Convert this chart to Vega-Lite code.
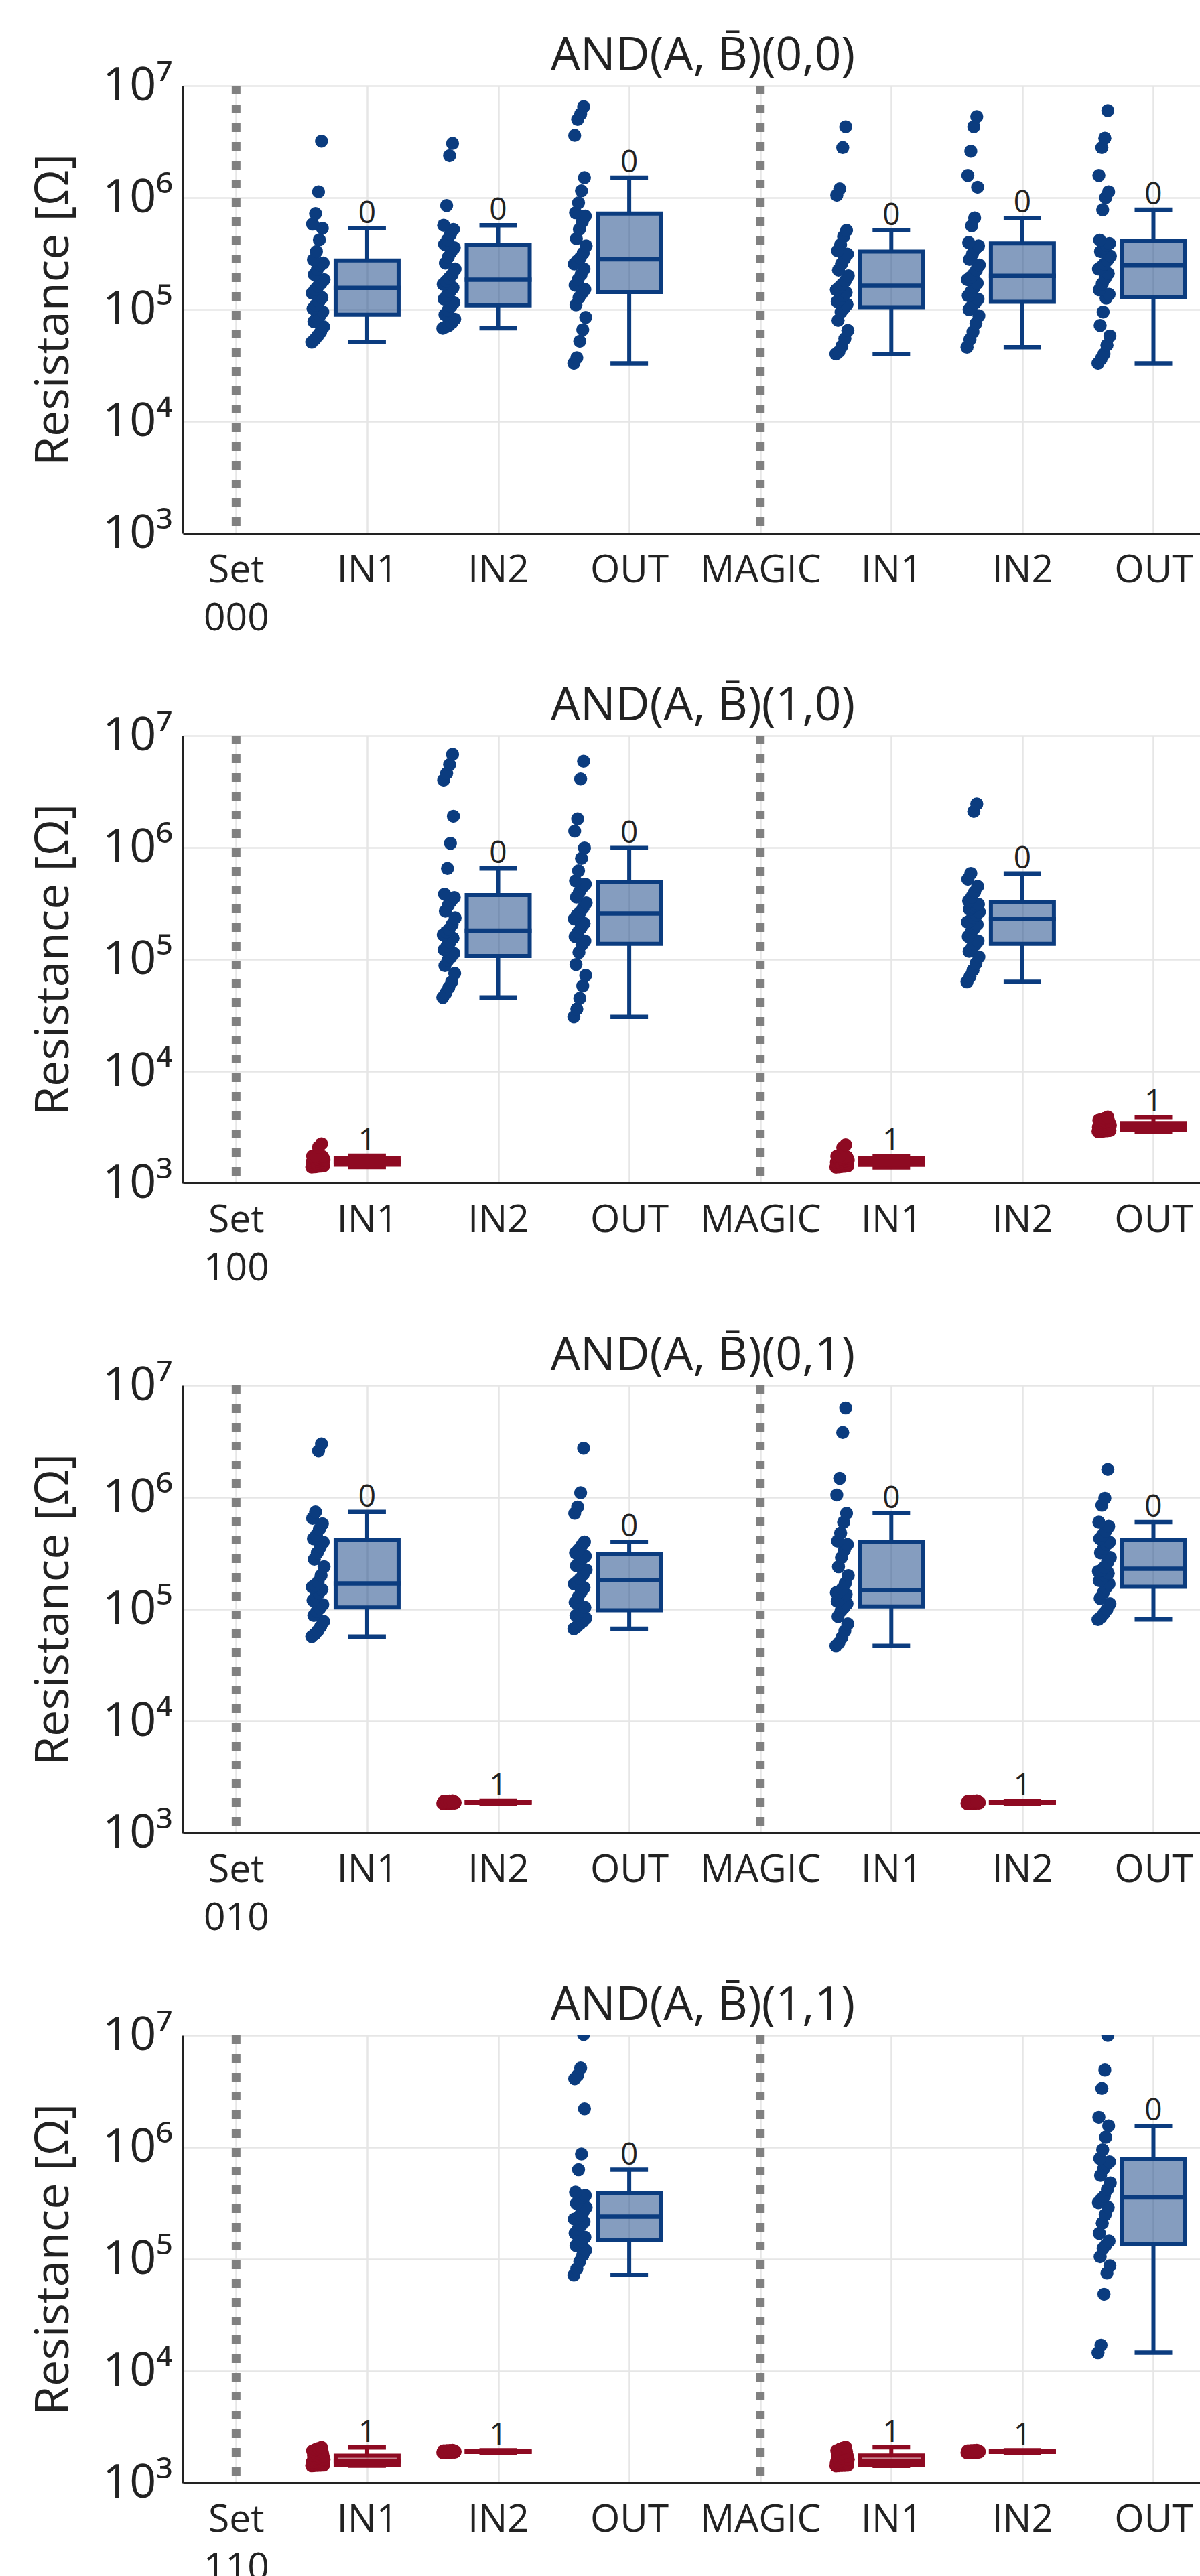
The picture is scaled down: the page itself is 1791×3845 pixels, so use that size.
{
"$schema": "https://vega.github.io/schema/vega-lite/v6.json",
"background": "white",
"padding": {"left": 45, "top": 49, "right": 0, "bottom": 0},
"spacing": 302,
"bounds": "flush",
"config": {
  "font": "Open Sans",
  "view": {"stroke": null},
  "axis": {"labelFont": "Open Sans", "titleFont": "Open Sans", "labelColor": "#222", "titleColor": "#222", "domainColor": "#222", "domainWidth": 3, "gridColor": "#e6e6e6", "gridWidth": 2.5, "ticks": false, "tickSize": 0, "labelOverlap": false, "labelFlush": false, "labelLimit": 0},
  "title": {"font": "Open Sans", "fontSize": 70, "fontWeight": "normal", "color": "#222"},
  "boxplot": {"size": 94}
},
"datasets": {
"refs": [{"g": "Set"}, {"g": "MAGIC"}],
"d": [
{"p":"a","g":"IN1","s":"0","n":1,"v":51000},{"p":"a","g":"IN1","s":"0","n":8,"v":54000},{"p":"a","g":"IN1","s":"0","n":15,"v":58000},{"p":"a","g":"IN1","s":"0","n":22,"v":63000},{"p":"a","g":"IN1","s":"0","n":29,"v":70000},{"p":"a","g":"IN1","s":"0","n":6,"v":78000},{"p":"a","g":"IN1","s":"0","n":13,"v":85000},{"p":"a","g":"IN1","s":"0","n":20,"v":88200},{"p":"a","g":"IN1","s":"0","n":27,"v":95400},{"p":"a","g":"IN1","s":"0","n":4,"v":102000},{"p":"a","g":"IN1","s":"0","n":11,"v":110000},{"p":"a","g":"IN1","s":"0","n":18,"v":118000},{"p":"a","g":"IN1","s":"0","n":25,"v":128000},{"p":"a","g":"IN1","s":"0","n":2,"v":140000},{"p":"a","g":"IN1","s":"0","n":9,"v":151000},{"p":"a","g":"IN1","s":"0","n":16,"v":161000},{"p":"a","g":"IN1","s":"0","n":23,"v":172000},{"p":"a","g":"IN1","s":"0","n":30,"v":185000},{"p":"a","g":"IN1","s":"0","n":7,"v":205000},{"p":"a","g":"IN1","s":"0","n":14,"v":228000},{"p":"a","g":"IN1","s":"0","n":21,"v":248000},{"p":"a","g":"IN1","s":"0","n":28,"v":260300},{"p":"a","g":"IN1","s":"0","n":5,"v":278700},{"p":"a","g":"IN1","s":"0","n":12,"v":330000},{"p":"a","g":"IN1","s":"0","n":19,"v":420000},{"p":"a","g":"IN1","s":"0","n":26,"v":533000},{"p":"a","g":"IN1","s":"0","n":3,"v":580000},{"p":"a","g":"IN1","s":"0","n":10,"v":720000},{"p":"a","g":"IN1","s":"0","n":17,"v":1130000},{"p":"a","g":"IN1","s":"0","n":24,"v":3200000},
{"p":"a","g":"IN2","s":"0","n":1,"v":68000},{"p":"a","g":"IN2","s":"0","n":8,"v":70000},{"p":"a","g":"IN2","s":"0","n":15,"v":72000},{"p":"a","g":"IN2","s":"0","n":22,"v":76000},{"p":"a","g":"IN2","s":"0","n":29,"v":82000},{"p":"a","g":"IN2","s":"0","n":6,"v":90000},{"p":"a","g":"IN2","s":"0","n":13,"v":98000},{"p":"a","g":"IN2","s":"0","n":20,"v":106800},{"p":"a","g":"IN2","s":"0","n":27,"v":115500},{"p":"a","g":"IN2","s":"0","n":4,"v":124000},{"p":"a","g":"IN2","s":"0","n":11,"v":134000},{"p":"a","g":"IN2","s":"0","n":18,"v":145000},{"p":"a","g":"IN2","s":"0","n":25,"v":157000},{"p":"a","g":"IN2","s":"0","n":2,"v":168000},{"p":"a","g":"IN2","s":"0","n":9,"v":179500},{"p":"a","g":"IN2","s":"0","n":16,"v":190500},{"p":"a","g":"IN2","s":"0","n":23,"v":205000},{"p":"a","g":"IN2","s":"0","n":30,"v":230000},{"p":"a","g":"IN2","s":"0","n":7,"v":260000},{"p":"a","g":"IN2","s":"0","n":14,"v":295000},{"p":"a","g":"IN2","s":"0","n":21,"v":330000},{"p":"a","g":"IN2","s":"0","n":28,"v":357200},{"p":"a","g":"IN2","s":"0","n":5,"v":382400},{"p":"a","g":"IN2","s":"0","n":12,"v":420000},{"p":"a","g":"IN2","s":"0","n":19,"v":470000},{"p":"a","g":"IN2","s":"0","n":26,"v":520000},{"p":"a","g":"IN2","s":"0","n":3,"v":567000},{"p":"a","g":"IN2","s":"0","n":10,"v":850000},{"p":"a","g":"IN2","s":"0","n":17,"v":2370000},{"p":"a","g":"IN2","s":"0","n":24,"v":3050000},
{"p":"a","g":"OUT","s":"0","n":1,"v":33000},{"p":"a","g":"OUT","s":"0","n":8,"v":37000},{"p":"a","g":"OUT","s":"0","n":15,"v":52000},{"p":"a","g":"OUT","s":"0","n":22,"v":66000},{"p":"a","g":"OUT","s":"0","n":29,"v":85000},{"p":"a","g":"OUT","s":"0","n":6,"v":110000},{"p":"a","g":"OUT","s":"0","n":13,"v":128000},{"p":"a","g":"OUT","s":"0","n":20,"v":140100},{"p":"a","g":"OUT","s":"0","n":27,"v":151600},{"p":"a","g":"OUT","s":"0","n":4,"v":165000},{"p":"a","g":"OUT","s":"0","n":11,"v":185000},{"p":"a","g":"OUT","s":"0","n":18,"v":205000},{"p":"a","g":"OUT","s":"0","n":25,"v":230000},{"p":"a","g":"OUT","s":"0","n":2,"v":255000},{"p":"a","g":"OUT","s":"0","n":9,"v":272600},{"p":"a","g":"OUT","s":"0","n":16,"v":289400},{"p":"a","g":"OUT","s":"0","n":23,"v":320000},{"p":"a","g":"OUT","s":"0","n":30,"v":370000},{"p":"a","g":"OUT","s":"0","n":7,"v":430000},{"p":"a","g":"OUT","s":"0","n":14,"v":520000},{"p":"a","g":"OUT","s":"0","n":21,"v":610000},{"p":"a","g":"OUT","s":"0","n":28,"v":684000},{"p":"a","g":"OUT","s":"0","n":5,"v":732200},{"p":"a","g":"OUT","s":"0","n":12,"v":900000},{"p":"a","g":"OUT","s":"0","n":19,"v":1150000},{"p":"a","g":"OUT","s":"0","n":26,"v":1510000},{"p":"a","g":"OUT","s":"0","n":3,"v":3600000},{"p":"a","g":"OUT","s":"0","n":10,"v":5000000},{"p":"a","g":"OUT","s":"0","n":17,"v":5600000},{"p":"a","g":"OUT","s":"0","n":24,"v":6500000},
{"p":"a","g":"IN1b","s":"0","n":1,"v":40000},{"p":"a","g":"IN1b","s":"0","n":8,"v":42000},{"p":"a","g":"IN1b","s":"0","n":15,"v":47000},{"p":"a","g":"IN1b","s":"0","n":22,"v":55000},{"p":"a","g":"IN1b","s":"0","n":29,"v":65000},{"p":"a","g":"IN1b","s":"0","n":6,"v":80000},{"p":"a","g":"IN1b","s":"0","n":13,"v":95000},{"p":"a","g":"IN1b","s":"0","n":20,"v":102900},{"p":"a","g":"IN1b","s":"0","n":27,"v":111300},{"p":"a","g":"IN1b","s":"0","n":4,"v":118000},{"p":"a","g":"IN1b","s":"0","n":11,"v":125000},{"p":"a","g":"IN1b","s":"0","n":18,"v":133000},{"p":"a","g":"IN1b","s":"0","n":25,"v":142000},{"p":"a","g":"IN1b","s":"0","n":2,"v":150000},{"p":"a","g":"IN1b","s":"0","n":9,"v":158100},{"p":"a","g":"IN1b","s":"0","n":16,"v":167900},{"p":"a","g":"IN1b","s":"0","n":23,"v":180000},{"p":"a","g":"IN1b","s":"0","n":30,"v":200000},{"p":"a","g":"IN1b","s":"0","n":7,"v":225000},{"p":"a","g":"IN1b","s":"0","n":14,"v":255000},{"p":"a","g":"IN1b","s":"0","n":21,"v":285000},{"p":"a","g":"IN1b","s":"0","n":28,"v":312550},{"p":"a","g":"IN1b","s":"0","n":5,"v":334600},{"p":"a","g":"IN1b","s":"0","n":12,"v":380000},{"p":"a","g":"IN1b","s":"0","n":19,"v":450000},{"p":"a","g":"IN1b","s":"0","n":26,"v":510000},{"p":"a","g":"IN1b","s":"0","n":3,"v":1050000},{"p":"a","g":"IN1b","s":"0","n":10,"v":1200000},{"p":"a","g":"IN1b","s":"0","n":17,"v":2800000},{"p":"a","g":"IN1b","s":"0","n":24,"v":4300000},
{"p":"a","g":"IN2b","s":"0","n":1,"v":46000},{"p":"a","g":"IN2b","s":"0","n":8,"v":54000},{"p":"a","g":"IN2b","s":"0","n":15,"v":63000},{"p":"a","g":"IN2b","s":"0","n":22,"v":75000},{"p":"a","g":"IN2b","s":"0","n":29,"v":88000},{"p":"a","g":"IN2b","s":"0","n":6,"v":100000},{"p":"a","g":"IN2b","s":"0","n":13,"v":108000},{"p":"a","g":"IN2b","s":"0","n":20,"v":114700},{"p":"a","g":"IN2b","s":"0","n":27,"v":124000},{"p":"a","g":"IN2b","s":"0","n":4,"v":133000},{"p":"a","g":"IN2b","s":"0","n":11,"v":145000},{"p":"a","g":"IN2b","s":"0","n":18,"v":158000},{"p":"a","g":"IN2b","s":"0","n":25,"v":172000},{"p":"a","g":"IN2b","s":"0","n":2,"v":185000},{"p":"a","g":"IN2b","s":"0","n":9,"v":194000},{"p":"a","g":"IN2b","s":"0","n":16,"v":206000},{"p":"a","g":"IN2b","s":"0","n":23,"v":225000},{"p":"a","g":"IN2b","s":"0","n":30,"v":250000},{"p":"a","g":"IN2b","s":"0","n":7,"v":280000},{"p":"a","g":"IN2b","s":"0","n":14,"v":315000},{"p":"a","g":"IN2b","s":"0","n":21,"v":350000},{"p":"a","g":"IN2b","s":"0","n":28,"v":370500},{"p":"a","g":"IN2b","s":"0","n":5,"v":396600},{"p":"a","g":"IN2b","s":"0","n":12,"v":560000},{"p":"a","g":"IN2b","s":"0","n":19,"v":660000},{"p":"a","g":"IN2b","s":"0","n":26,"v":1240000},{"p":"a","g":"IN2b","s":"0","n":3,"v":1580000},{"p":"a","g":"IN2b","s":"0","n":10,"v":2600000},{"p":"a","g":"IN2b","s":"0","n":17,"v":4300000},{"p":"a","g":"IN2b","s":"0","n":24,"v":5300000},
{"p":"a","g":"OUTb","s":"0","n":1,"v":33000},{"p":"a","g":"OUTb","s":"0","n":8,"v":36000},{"p":"a","g":"OUTb","s":"0","n":15,"v":40000},{"p":"a","g":"OUTb","s":"0","n":22,"v":48000},{"p":"a","g":"OUTb","s":"0","n":29,"v":58000},{"p":"a","g":"OUTb","s":"0","n":6,"v":72000},{"p":"a","g":"OUTb","s":"0","n":13,"v":95000},{"p":"a","g":"OUTb","s":"0","n":20,"v":126400},{"p":"a","g":"OUTb","s":"0","n":27,"v":136700},{"p":"a","g":"OUTb","s":"0","n":4,"v":150000},{"p":"a","g":"OUTb","s":"0","n":11,"v":170000},{"p":"a","g":"OUTb","s":"0","n":18,"v":190000},{"p":"a","g":"OUTb","s":"0","n":25,"v":210000},{"p":"a","g":"OUTb","s":"0","n":2,"v":230000},{"p":"a","g":"OUTb","s":"0","n":9,"v":240600},{"p":"a","g":"OUTb","s":"0","n":16,"v":255400},{"p":"a","g":"OUTb","s":"0","n":23,"v":275000},{"p":"a","g":"OUTb","s":"0","n":30,"v":300000},{"p":"a","g":"OUTb","s":"0","n":7,"v":330000},{"p":"a","g":"OUTb","s":"0","n":14,"v":355000},{"p":"a","g":"OUTb","s":"0","n":21,"v":375000},{"p":"a","g":"OUTb","s":"0","n":28,"v":389500},{"p":"a","g":"OUTb","s":"0","n":5,"v":417000},{"p":"a","g":"OUTb","s":"0","n":12,"v":780000},{"p":"a","g":"OUTb","s":"0","n":19,"v":1000000},{"p":"a","g":"OUTb","s":"0","n":26,"v":1130000},{"p":"a","g":"OUTb","s":"0","n":3,"v":1580000},{"p":"a","g":"OUTb","s":"0","n":10,"v":2800000},{"p":"a","g":"OUTb","s":"0","n":17,"v":3400000},{"p":"a","g":"OUTb","s":"0","n":24,"v":6000000},
{"p":"b","g":"IN1","s":"1","n":1,"v":1390},{"p":"b","g":"IN1","s":"1","n":8,"v":1400},{"p":"b","g":"IN1","s":"1","n":15,"v":1410},{"p":"b","g":"IN1","s":"1","n":22,"v":1420},{"p":"b","g":"IN1","s":"1","n":29,"v":1430},{"p":"b","g":"IN1","s":"1","n":6,"v":1440},{"p":"b","g":"IN1","s":"1","n":13,"v":1450},{"p":"b","g":"IN1","s":"1","n":20,"v":1457},{"p":"b","g":"IN1","s":"1","n":27,"v":1467},{"p":"b","g":"IN1","s":"1","n":4,"v":1480},{"p":"b","g":"IN1","s":"1","n":11,"v":1495},{"p":"b","g":"IN1","s":"1","n":18,"v":1510},{"p":"b","g":"IN1","s":"1","n":25,"v":1525},{"p":"b","g":"IN1","s":"1","n":2,"v":1540},{"p":"b","g":"IN1","s":"1","n":9,"v":1550},{"p":"b","g":"IN1","s":"1","n":16,"v":1570},{"p":"b","g":"IN1","s":"1","n":23,"v":1590},{"p":"b","g":"IN1","s":"1","n":30,"v":1610},{"p":"b","g":"IN1","s":"1","n":7,"v":1630},{"p":"b","g":"IN1","s":"1","n":14,"v":1650},{"p":"b","g":"IN1","s":"1","n":21,"v":1665},{"p":"b","g":"IN1","s":"1","n":28,"v":1680},{"p":"b","g":"IN1","s":"1","n":5,"v":1693},{"p":"b","g":"IN1","s":"1","n":12,"v":1700},{"p":"b","g":"IN1","s":"1","n":19,"v":1715},{"p":"b","g":"IN1","s":"1","n":26,"v":1730},{"p":"b","g":"IN1","s":"1","n":3,"v":1745},{"p":"b","g":"IN1","s":"1","n":10,"v":1760},{"p":"b","g":"IN1","s":"1","n":17,"v":2100},{"p":"b","g":"IN1","s":"1","n":24,"v":2250},
{"p":"b","g":"IN2","s":"0","n":1,"v":45700},{"p":"b","g":"IN2","s":"0","n":8,"v":50000},{"p":"b","g":"IN2","s":"0","n":15,"v":56000},{"p":"b","g":"IN2","s":"0","n":22,"v":63000},{"p":"b","g":"IN2","s":"0","n":29,"v":75000},{"p":"b","g":"IN2","s":"0","n":6,"v":88000},{"p":"b","g":"IN2","s":"0","n":13,"v":98000},{"p":"b","g":"IN2","s":"0","n":20,"v":104900},{"p":"b","g":"IN2","s":"0","n":27,"v":113400},{"p":"b","g":"IN2","s":"0","n":4,"v":122000},{"p":"b","g":"IN2","s":"0","n":11,"v":132000},{"p":"b","g":"IN2","s":"0","n":18,"v":143000},{"p":"b","g":"IN2","s":"0","n":25,"v":155000},{"p":"b","g":"IN2","s":"0","n":2,"v":166000},{"p":"b","g":"IN2","s":"0","n":9,"v":175600},{"p":"b","g":"IN2","s":"0","n":16,"v":186400},{"p":"b","g":"IN2","s":"0","n":23,"v":205000},{"p":"b","g":"IN2","s":"0","n":30,"v":235000},{"p":"b","g":"IN2","s":"0","n":7,"v":270000},{"p":"b","g":"IN2","s":"0","n":14,"v":305000},{"p":"b","g":"IN2","s":"0","n":21,"v":335000},{"p":"b","g":"IN2","s":"0","n":28,"v":357200},{"p":"b","g":"IN2","s":"0","n":5,"v":382400},{"p":"b","g":"IN2","s":"0","n":12,"v":650000},{"p":"b","g":"IN2","s":"0","n":19,"v":1090000},{"p":"b","g":"IN2","s":"0","n":26,"v":1900000},{"p":"b","g":"IN2","s":"0","n":3,"v":4000000},{"p":"b","g":"IN2","s":"0","n":10,"v":4600000},{"p":"b","g":"IN2","s":"0","n":17,"v":5500000},{"p":"b","g":"IN2","s":"0","n":24,"v":6800000},
{"p":"b","g":"OUT","s":"0","n":1,"v":30700},{"p":"b","g":"OUT","s":"0","n":8,"v":36000},{"p":"b","g":"OUT","s":"0","n":15,"v":45000},{"p":"b","g":"OUT","s":"0","n":22,"v":58000},{"p":"b","g":"OUT","s":"0","n":29,"v":72000},{"p":"b","g":"OUT","s":"0","n":6,"v":90000},{"p":"b","g":"OUT","s":"0","n":13,"v":115000},{"p":"b","g":"OUT","s":"0","n":20,"v":135200},{"p":"b","g":"OUT","s":"0","n":27,"v":146300},{"p":"b","g":"OUT","s":"0","n":4,"v":160000},{"p":"b","g":"OUT","s":"0","n":11,"v":175000},{"p":"b","g":"OUT","s":"0","n":18,"v":192000},{"p":"b","g":"OUT","s":"0","n":25,"v":210000},{"p":"b","g":"OUT","s":"0","n":2,"v":230000},{"p":"b","g":"OUT","s":"0","n":9,"v":249300},{"p":"b","g":"OUT","s":"0","n":16,"v":264700},{"p":"b","g":"OUT","s":"0","n":23,"v":290000},{"p":"b","g":"OUT","s":"0","n":30,"v":320000},{"p":"b","g":"OUT","s":"0","n":7,"v":360000},{"p":"b","g":"OUT","s":"0","n":14,"v":400000},{"p":"b","g":"OUT","s":"0","n":21,"v":440000},{"p":"b","g":"OUT","s":"0","n":28,"v":470250},{"p":"b","g":"OUT","s":"0","n":5,"v":503400},{"p":"b","g":"OUT","s":"0","n":12,"v":620000},{"p":"b","g":"OUT","s":"0","n":19,"v":800000},{"p":"b","g":"OUT","s":"0","n":26,"v":990000},{"p":"b","g":"OUT","s":"0","n":3,"v":1400000},{"p":"b","g":"OUT","s":"0","n":10,"v":1800000},{"p":"b","g":"OUT","s":"0","n":17,"v":4100000},{"p":"b","g":"OUT","s":"0","n":24,"v":5900000},
{"p":"b","g":"IN1b","s":"1","n":1,"v":1385},{"p":"b","g":"IN1b","s":"1","n":8,"v":1398},{"p":"b","g":"IN1b","s":"1","n":15,"v":1408},{"p":"b","g":"IN1b","s":"1","n":22,"v":1418},{"p":"b","g":"IN1b","s":"1","n":29,"v":1428},{"p":"b","g":"IN1b","s":"1","n":6,"v":1438},{"p":"b","g":"IN1b","s":"1","n":13,"v":1448},{"p":"b","g":"IN1b","s":"1","n":20,"v":1455},{"p":"b","g":"IN1b","s":"1","n":27,"v":1466},{"p":"b","g":"IN1b","s":"1","n":4,"v":1478},{"p":"b","g":"IN1b","s":"1","n":11,"v":1492},{"p":"b","g":"IN1b","s":"1","n":18,"v":1506},{"p":"b","g":"IN1b","s":"1","n":25,"v":1520},{"p":"b","g":"IN1b","s":"1","n":2,"v":1536},{"p":"b","g":"IN1b","s":"1","n":9,"v":1548},{"p":"b","g":"IN1b","s":"1","n":16,"v":1566},{"p":"b","g":"IN1b","s":"1","n":23,"v":1585},{"p":"b","g":"IN1b","s":"1","n":30,"v":1605},{"p":"b","g":"IN1b","s":"1","n":7,"v":1625},{"p":"b","g":"IN1b","s":"1","n":14,"v":1645},{"p":"b","g":"IN1b","s":"1","n":21,"v":1662},{"p":"b","g":"IN1b","s":"1","n":28,"v":1676},{"p":"b","g":"IN1b","s":"1","n":5,"v":1690},{"p":"b","g":"IN1b","s":"1","n":12,"v":1698},{"p":"b","g":"IN1b","s":"1","n":19,"v":1712},{"p":"b","g":"IN1b","s":"1","n":26,"v":1726},{"p":"b","g":"IN1b","s":"1","n":3,"v":1740},{"p":"b","g":"IN1b","s":"1","n":10,"v":1755},{"p":"b","g":"IN1b","s":"1","n":17,"v":2080},{"p":"b","g":"IN1b","s":"1","n":24,"v":2200},
{"p":"b","g":"IN2b","s":"0","n":1,"v":63000},{"p":"b","g":"IN2b","s":"0","n":8,"v":70000},{"p":"b","g":"IN2b","s":"0","n":15,"v":80000},{"p":"b","g":"IN2b","s":"0","n":22,"v":92000},{"p":"b","g":"IN2b","s":"0","n":29,"v":105000},{"p":"b","g":"IN2b","s":"0","n":6,"v":118000},{"p":"b","g":"IN2b","s":"0","n":13,"v":128000},{"p":"b","g":"IN2b","s":"0","n":20,"v":135200},{"p":"b","g":"IN2b","s":"0","n":27,"v":146300},{"p":"b","g":"IN2b","s":"0","n":4,"v":160000},{"p":"b","g":"IN2b","s":"0","n":11,"v":175000},{"p":"b","g":"IN2b","s":"0","n":18,"v":190000},{"p":"b","g":"IN2b","s":"0","n":25,"v":205000},{"p":"b","g":"IN2b","s":"0","n":2,"v":215000},{"p":"b","g":"IN2b","s":"0","n":9,"v":223100},{"p":"b","g":"IN2b","s":"0","n":16,"v":236900},{"p":"b","g":"IN2b","s":"0","n":23,"v":250000},{"p":"b","g":"IN2b","s":"0","n":30,"v":265000},{"p":"b","g":"IN2b","s":"0","n":7,"v":280000},{"p":"b","g":"IN2b","s":"0","n":14,"v":295000},{"p":"b","g":"IN2b","s":"0","n":21,"v":305000},{"p":"b","g":"IN2b","s":"0","n":28,"v":310650},{"p":"b","g":"IN2b","s":"0","n":5,"v":332600},{"p":"b","g":"IN2b","s":"0","n":12,"v":360000},{"p":"b","g":"IN2b","s":"0","n":19,"v":400000},{"p":"b","g":"IN2b","s":"0","n":26,"v":450000},{"p":"b","g":"IN2b","s":"0","n":3,"v":520000},{"p":"b","g":"IN2b","s":"0","n":10,"v":586000},{"p":"b","g":"IN2b","s":"0","n":17,"v":2100000},{"p":"b","g":"IN2b","s":"0","n":24,"v":2450000},
{"p":"b","g":"OUTb","s":"1","n":1,"v":2900},{"p":"b","g":"OUTb","s":"1","n":8,"v":2910},{"p":"b","g":"OUTb","s":"1","n":15,"v":2925},{"p":"b","g":"OUTb","s":"1","n":22,"v":2940},{"p":"b","g":"OUTb","s":"1","n":29,"v":2955},{"p":"b","g":"OUTb","s":"1","n":6,"v":2970},{"p":"b","g":"OUTb","s":"1","n":13,"v":2985},{"p":"b","g":"OUTb","s":"1","n":20,"v":2995},{"p":"b","g":"OUTb","s":"1","n":27,"v":3010},{"p":"b","g":"OUTb","s":"1","n":4,"v":3040},{"p":"b","g":"OUTb","s":"1","n":11,"v":3080},{"p":"b","g":"OUTb","s":"1","n":18,"v":3110},{"p":"b","g":"OUTb","s":"1","n":25,"v":3140},{"p":"b","g":"OUTb","s":"1","n":2,"v":3165},{"p":"b","g":"OUTb","s":"1","n":9,"v":3185},{"p":"b","g":"OUTb","s":"1","n":16,"v":3215},{"p":"b","g":"OUTb","s":"1","n":23,"v":3250},{"p":"b","g":"OUTb","s":"1","n":30,"v":3290},{"p":"b","g":"OUTb","s":"1","n":7,"v":3330},{"p":"b","g":"OUTb","s":"1","n":14,"v":3370},{"p":"b","g":"OUTb","s":"1","n":21,"v":3400},{"p":"b","g":"OUTb","s":"1","n":28,"v":3430},{"p":"b","g":"OUTb","s":"1","n":5,"v":3460},{"p":"b","g":"OUTb","s":"1","n":12,"v":3500},{"p":"b","g":"OUTb","s":"1","n":19,"v":3550},{"p":"b","g":"OUTb","s":"1","n":26,"v":3600},{"p":"b","g":"OUTb","s":"1","n":3,"v":3660},{"p":"b","g":"OUTb","s":"1","n":10,"v":3720},{"p":"b","g":"OUTb","s":"1","n":17,"v":3800},{"p":"b","g":"OUTb","s":"1","n":24,"v":3900},
{"p":"c","g":"IN1","s":"0","n":1,"v":57000},{"p":"c","g":"IN1","s":"0","n":8,"v":60000},{"p":"c","g":"IN1","s":"0","n":15,"v":64000},{"p":"c","g":"IN1","s":"0","n":22,"v":70000},{"p":"c","g":"IN1","s":"0","n":29,"v":78000},{"p":"c","g":"IN1","s":"0","n":6,"v":88000},{"p":"c","g":"IN1","s":"0","n":13,"v":96000},{"p":"c","g":"IN1","s":"0","n":20,"v":101900},{"p":"c","g":"IN1","s":"0","n":27,"v":110200},{"p":"c","g":"IN1","s":"0","n":4,"v":120000},{"p":"c","g":"IN1","s":"0","n":11,"v":130000},{"p":"c","g":"IN1","s":"0","n":18,"v":140000},{"p":"c","g":"IN1","s":"0","n":25,"v":150000},{"p":"c","g":"IN1","s":"0","n":2,"v":158000},{"p":"c","g":"IN1","s":"0","n":9,"v":164900},{"p":"c","g":"IN1","s":"0","n":16,"v":175100},{"p":"c","g":"IN1","s":"0","n":23,"v":200000},{"p":"c","g":"IN1","s":"0","n":30,"v":240000},{"p":"c","g":"IN1","s":"0","n":7,"v":280000},{"p":"c","g":"IN1","s":"0","n":14,"v":320000},{"p":"c","g":"IN1","s":"0","n":21,"v":360000},{"p":"c","g":"IN1","s":"0","n":28,"v":399000},{"p":"c","g":"IN1","s":"0","n":5,"v":427100},{"p":"c","g":"IN1","s":"0","n":12,"v":460000},{"p":"c","g":"IN1","s":"0","n":19,"v":520000},{"p":"c","g":"IN1","s":"0","n":26,"v":580000},{"p":"c","g":"IN1","s":"0","n":3,"v":650000},{"p":"c","g":"IN1","s":"0","n":10,"v":740000},{"p":"c","g":"IN1","s":"0","n":17,"v":2600000},{"p":"c","g":"IN1","s":"0","n":24,"v":3000000},
{"p":"c","g":"IN2","s":"1","n":1,"v":1835},{"p":"c","g":"IN2","s":"1","n":8,"v":1840},{"p":"c","g":"IN2","s":"1","n":15,"v":1845},{"p":"c","g":"IN2","s":"1","n":22,"v":1848},{"p":"c","g":"IN2","s":"1","n":29,"v":1851},{"p":"c","g":"IN2","s":"1","n":6,"v":1854},{"p":"c","g":"IN2","s":"1","n":13,"v":1857},{"p":"c","g":"IN2","s":"1","n":20,"v":1859},{"p":"c","g":"IN2","s":"1","n":27,"v":1862},{"p":"c","g":"IN2","s":"1","n":4,"v":1865},{"p":"c","g":"IN2","s":"1","n":11,"v":1867},{"p":"c","g":"IN2","s":"1","n":18,"v":1869},{"p":"c","g":"IN2","s":"1","n":25,"v":1871},{"p":"c","g":"IN2","s":"1","n":2,"v":1873},{"p":"c","g":"IN2","s":"1","n":9,"v":1875},{"p":"c","g":"IN2","s":"1","n":16,"v":1877},{"p":"c","g":"IN2","s":"1","n":23,"v":1879},{"p":"c","g":"IN2","s":"1","n":30,"v":1881},{"p":"c","g":"IN2","s":"1","n":7,"v":1883},{"p":"c","g":"IN2","s":"1","n":14,"v":1885},{"p":"c","g":"IN2","s":"1","n":21,"v":1887},{"p":"c","g":"IN2","s":"1","n":28,"v":1889},{"p":"c","g":"IN2","s":"1","n":5,"v":1892},{"p":"c","g":"IN2","s":"1","n":12,"v":1896},{"p":"c","g":"IN2","s":"1","n":19,"v":1900},{"p":"c","g":"IN2","s":"1","n":26,"v":1905},{"p":"c","g":"IN2","s":"1","n":3,"v":1910},{"p":"c","g":"IN2","s":"1","n":10,"v":1918},{"p":"c","g":"IN2","s":"1","n":17,"v":1926},{"p":"c","g":"IN2","s":"1","n":24,"v":1935},
{"p":"c","g":"OUT","s":"0","n":1,"v":67000},{"p":"c","g":"OUT","s":"0","n":8,"v":70000},{"p":"c","g":"OUT","s":"0","n":15,"v":74000},{"p":"c","g":"OUT","s":"0","n":22,"v":78000},{"p":"c","g":"OUT","s":"0","n":29,"v":83000},{"p":"c","g":"OUT","s":"0","n":6,"v":88000},{"p":"c","g":"OUT","s":"0","n":13,"v":93000},{"p":"c","g":"OUT","s":"0","n":20,"v":96000},{"p":"c","g":"OUT","s":"0","n":27,"v":103900},{"p":"c","g":"OUT","s":"0","n":4,"v":115000},{"p":"c","g":"OUT","s":"0","n":11,"v":128000},{"p":"c","g":"OUT","s":"0","n":18,"v":142000},{"p":"c","g":"OUT","s":"0","n":25,"v":156000},{"p":"c","g":"OUT","s":"0","n":2,"v":168000},{"p":"c","g":"OUT","s":"0","n":9,"v":176500},{"p":"c","g":"OUT","s":"0","n":16,"v":187500},{"p":"c","g":"OUT","s":"0","n":23,"v":205000},{"p":"c","g":"OUT","s":"0","n":30,"v":225000},{"p":"c","g":"OUT","s":"0","n":7,"v":245000},{"p":"c","g":"OUT","s":"0","n":14,"v":265000},{"p":"c","g":"OUT","s":"0","n":21,"v":285000},{"p":"c","g":"OUT","s":"0","n":28,"v":298300},{"p":"c","g":"OUT","s":"0","n":5,"v":319300},{"p":"c","g":"OUT","s":"0","n":12,"v":340000},{"p":"c","g":"OUT","s":"0","n":19,"v":370000},{"p":"c","g":"OUT","s":"0","n":26,"v":400000},{"p":"c","g":"OUT","s":"0","n":3,"v":720000},{"p":"c","g":"OUT","s":"0","n":10,"v":820000},{"p":"c","g":"OUT","s":"0","n":17,"v":1100000},{"p":"c","g":"OUT","s":"0","n":24,"v":2750000},
{"p":"c","g":"IN1b","s":"0","n":1,"v":47000},{"p":"c","g":"IN1b","s":"0","n":8,"v":50000},{"p":"c","g":"IN1b","s":"0","n":15,"v":56000},{"p":"c","g":"IN1b","s":"0","n":22,"v":64000},{"p":"c","g":"IN1b","s":"0","n":29,"v":74000},{"p":"c","g":"IN1b","s":"0","n":6,"v":86000},{"p":"c","g":"IN1b","s":"0","n":13,"v":97000},{"p":"c","g":"IN1b","s":"0","n":20,"v":103900},{"p":"c","g":"IN1b","s":"0","n":27,"v":112400},{"p":"c","g":"IN1b","s":"0","n":4,"v":118000},{"p":"c","g":"IN1b","s":"0","n":11,"v":124000},{"p":"c","g":"IN1b","s":"0","n":18,"v":130000},{"p":"c","g":"IN1b","s":"0","n":25,"v":136000},{"p":"c","g":"IN1b","s":"0","n":2,"v":141000},{"p":"c","g":"IN1b","s":"0","n":9,"v":143600},{"p":"c","g":"IN1b","s":"0","n":16,"v":152400},{"p":"c","g":"IN1b","s":"0","n":23,"v":170000},{"p":"c","g":"IN1b","s":"0","n":30,"v":200000},{"p":"c","g":"IN1b","s":"0","n":7,"v":240000},{"p":"c","g":"IN1b","s":"0","n":14,"v":290000},{"p":"c","g":"IN1b","s":"0","n":21,"v":340000},{"p":"c","g":"IN1b","s":"0","n":28,"v":380000},{"p":"c","g":"IN1b","s":"0","n":5,"v":406800},{"p":"c","g":"IN1b","s":"0","n":12,"v":480000},{"p":"c","g":"IN1b","s":"0","n":19,"v":600000},{"p":"c","g":"IN1b","s":"0","n":26,"v":720000},{"p":"c","g":"IN1b","s":"0","n":3,"v":1050000},{"p":"c","g":"IN1b","s":"0","n":10,"v":1480000},{"p":"c","g":"IN1b","s":"0","n":17,"v":3800000},{"p":"c","g":"IN1b","s":"0","n":24,"v":6300000},
{"p":"c","g":"IN2b","s":"1","n":1,"v":1838},{"p":"c","g":"IN2b","s":"1","n":8,"v":1843},{"p":"c","g":"IN2b","s":"1","n":15,"v":1847},{"p":"c","g":"IN2b","s":"1","n":22,"v":1850},{"p":"c","g":"IN2b","s":"1","n":29,"v":1853},{"p":"c","g":"IN2b","s":"1","n":6,"v":1856},{"p":"c","g":"IN2b","s":"1","n":13,"v":1858},{"p":"c","g":"IN2b","s":"1","n":20,"v":1860},{"p":"c","g":"IN2b","s":"1","n":27,"v":1863},{"p":"c","g":"IN2b","s":"1","n":4,"v":1866},{"p":"c","g":"IN2b","s":"1","n":11,"v":1868},{"p":"c","g":"IN2b","s":"1","n":18,"v":1870},{"p":"c","g":"IN2b","s":"1","n":25,"v":1872},{"p":"c","g":"IN2b","s":"1","n":2,"v":1874},{"p":"c","g":"IN2b","s":"1","n":9,"v":1876},{"p":"c","g":"IN2b","s":"1","n":16,"v":1878},{"p":"c","g":"IN2b","s":"1","n":23,"v":1880},{"p":"c","g":"IN2b","s":"1","n":30,"v":1882},{"p":"c","g":"IN2b","s":"1","n":7,"v":1884},{"p":"c","g":"IN2b","s":"1","n":14,"v":1886},{"p":"c","g":"IN2b","s":"1","n":21,"v":1888},{"p":"c","g":"IN2b","s":"1","n":28,"v":1890},{"p":"c","g":"IN2b","s":"1","n":5,"v":1893},{"p":"c","g":"IN2b","s":"1","n":12,"v":1897},{"p":"c","g":"IN2b","s":"1","n":19,"v":1901},{"p":"c","g":"IN2b","s":"1","n":26,"v":1906},{"p":"c","g":"IN2b","s":"1","n":3,"v":1912},{"p":"c","g":"IN2b","s":"1","n":10,"v":1919},{"p":"c","g":"IN2b","s":"1","n":17,"v":1927},{"p":"c","g":"IN2b","s":"1","n":24,"v":1933},
{"p":"c","g":"OUTb","s":"0","n":1,"v":81000},{"p":"c","g":"OUTb","s":"0","n":8,"v":85000},{"p":"c","g":"OUTb","s":"0","n":15,"v":92000},{"p":"c","g":"OUTb","s":"0","n":22,"v":100000},{"p":"c","g":"OUTb","s":"0","n":29,"v":112000},{"p":"c","g":"OUTb","s":"0","n":6,"v":125000},{"p":"c","g":"OUTb","s":"0","n":13,"v":140000},{"p":"c","g":"OUTb","s":"0","n":20,"v":155800},{"p":"c","g":"OUTb","s":"0","n":27,"v":168500},{"p":"c","g":"OUTb","s":"0","n":4,"v":180000},{"p":"c","g":"OUTb","s":"0","n":11,"v":190000},{"p":"c","g":"OUTb","s":"0","n":18,"v":200000},{"p":"c","g":"OUTb","s":"0","n":25,"v":210000},{"p":"c","g":"OUTb","s":"0","n":2,"v":218000},{"p":"c","g":"OUTb","s":"0","n":9,"v":223100},{"p":"c","g":"OUTb","s":"0","n":16,"v":236900},{"p":"c","g":"OUTb","s":"0","n":23,"v":260000},{"p":"c","g":"OUTb","s":"0","n":30,"v":290000},{"p":"c","g":"OUTb","s":"0","n":7,"v":320000},{"p":"c","g":"OUTb","s":"0","n":14,"v":350000},{"p":"c","g":"OUTb","s":"0","n":21,"v":380000},{"p":"c","g":"OUTb","s":"0","n":28,"v":399000},{"p":"c","g":"OUTb","s":"0","n":5,"v":427100},{"p":"c","g":"OUTb","s":"0","n":12,"v":460000},{"p":"c","g":"OUTb","s":"0","n":19,"v":500000},{"p":"c","g":"OUTb","s":"0","n":26,"v":550000},{"p":"c","g":"OUTb","s":"0","n":3,"v":600000},{"p":"c","g":"OUTb","s":"0","n":10,"v":850000},{"p":"c","g":"OUTb","s":"0","n":17,"v":980000},{"p":"c","g":"OUTb","s":"0","n":24,"v":1780000},
{"p":"d","g":"IN1","s":"1","n":1,"v":1420},{"p":"d","g":"IN1","s":"1","n":8,"v":1425},{"p":"d","g":"IN1","s":"1","n":15,"v":1430},{"p":"d","g":"IN1","s":"1","n":22,"v":1435},{"p":"d","g":"IN1","s":"1","n":29,"v":1440},{"p":"d","g":"IN1","s":"1","n":6,"v":1443},{"p":"d","g":"IN1","s":"1","n":13,"v":1446},{"p":"d","g":"IN1","s":"1","n":20,"v":1448},{"p":"d","g":"IN1","s":"1","n":27,"v":1456},{"p":"d","g":"IN1","s":"1","n":4,"v":1470},{"p":"d","g":"IN1","s":"1","n":11,"v":1485},{"p":"d","g":"IN1","s":"1","n":18,"v":1500},{"p":"d","g":"IN1","s":"1","n":25,"v":1515},{"p":"d","g":"IN1","s":"1","n":2,"v":1530},{"p":"d","g":"IN1","s":"1","n":9,"v":1540},{"p":"d","g":"IN1","s":"1","n":16,"v":1560},{"p":"d","g":"IN1","s":"1","n":23,"v":1580},{"p":"d","g":"IN1","s":"1","n":30,"v":1610},{"p":"d","g":"IN1","s":"1","n":7,"v":1640},{"p":"d","g":"IN1","s":"1","n":14,"v":1670},{"p":"d","g":"IN1","s":"1","n":21,"v":1700},{"p":"d","g":"IN1","s":"1","n":28,"v":1730},{"p":"d","g":"IN1","s":"1","n":5,"v":1757},{"p":"d","g":"IN1","s":"1","n":12,"v":1790},{"p":"d","g":"IN1","s":"1","n":19,"v":1830},{"p":"d","g":"IN1","s":"1","n":26,"v":1880},{"p":"d","g":"IN1","s":"1","n":3,"v":1930},{"p":"d","g":"IN1","s":"1","n":10,"v":1980},{"p":"d","g":"IN1","s":"1","n":17,"v":2030},{"p":"d","g":"IN1","s":"1","n":24,"v":2070},
{"p":"d","g":"IN2","s":"1","n":1,"v":1860},{"p":"d","g":"IN2","s":"1","n":8,"v":1865},{"p":"d","g":"IN2","s":"1","n":15,"v":1870},{"p":"d","g":"IN2","s":"1","n":22,"v":1874},{"p":"d","g":"IN2","s":"1","n":29,"v":1877},{"p":"d","g":"IN2","s":"1","n":6,"v":1880},{"p":"d","g":"IN2","s":"1","n":13,"v":1883},{"p":"d","g":"IN2","s":"1","n":20,"v":1885},{"p":"d","g":"IN2","s":"1","n":27,"v":1888},{"p":"d","g":"IN2","s":"1","n":4,"v":1891},{"p":"d","g":"IN2","s":"1","n":11,"v":1893},{"p":"d","g":"IN2","s":"1","n":18,"v":1895},{"p":"d","g":"IN2","s":"1","n":25,"v":1897},{"p":"d","g":"IN2","s":"1","n":2,"v":1899},{"p":"d","g":"IN2","s":"1","n":9,"v":1900},{"p":"d","g":"IN2","s":"1","n":16,"v":1902},{"p":"d","g":"IN2","s":"1","n":23,"v":1904},{"p":"d","g":"IN2","s":"1","n":30,"v":1906},{"p":"d","g":"IN2","s":"1","n":7,"v":1908},{"p":"d","g":"IN2","s":"1","n":14,"v":1910},{"p":"d","g":"IN2","s":"1","n":21,"v":1912},{"p":"d","g":"IN2","s":"1","n":28,"v":1914},{"p":"d","g":"IN2","s":"1","n":5,"v":1917},{"p":"d","g":"IN2","s":"1","n":12,"v":1921},{"p":"d","g":"IN2","s":"1","n":19,"v":1925},{"p":"d","g":"IN2","s":"1","n":26,"v":1930},{"p":"d","g":"IN2","s":"1","n":3,"v":1935},{"p":"d","g":"IN2","s":"1","n":10,"v":1941},{"p":"d","g":"IN2","s":"1","n":17,"v":1948},{"p":"d","g":"IN2","s":"1","n":24,"v":1955},
{"p":"d","g":"OUT","s":"0","n":1,"v":72000},{"p":"d","g":"OUT","s":"0","n":8,"v":82000},{"p":"d","g":"OUT","s":"0","n":15,"v":95000},{"p":"d","g":"OUT","s":"0","n":22,"v":108000},{"p":"d","g":"OUT","s":"0","n":29,"v":120000},{"p":"d","g":"OUT","s":"0","n":6,"v":132000},{"p":"d","g":"OUT","s":"0","n":13,"v":141000},{"p":"d","g":"OUT","s":"0","n":20,"v":145000},{"p":"d","g":"OUT","s":"0","n":27,"v":156900},{"p":"d","g":"OUT","s":"0","n":4,"v":170000},{"p":"d","g":"OUT","s":"0","n":11,"v":185000},{"p":"d","g":"OUT","s":"0","n":18,"v":200000},{"p":"d","g":"OUT","s":"0","n":25,"v":215000},{"p":"d","g":"OUT","s":"0","n":2,"v":228000},{"p":"d","g":"OUT","s":"0","n":9,"v":232800},{"p":"d","g":"OUT","s":"0","n":16,"v":247200},{"p":"d","g":"OUT","s":"0","n":23,"v":265000},{"p":"d","g":"OUT","s":"0","n":30,"v":290000},{"p":"d","g":"OUT","s":"0","n":7,"v":315000},{"p":"d","g":"OUT","s":"0","n":14,"v":340000},{"p":"d","g":"OUT","s":"0","n":21,"v":360000},{"p":"d","g":"OUT","s":"0","n":28,"v":370500},{"p":"d","g":"OUT","s":"0","n":5,"v":396600},{"p":"d","g":"OUT","s":"0","n":12,"v":630000},{"p":"d","g":"OUT","s":"0","n":19,"v":870000},{"p":"d","g":"OUT","s":"0","n":26,"v":2200000},{"p":"d","g":"OUT","s":"0","n":3,"v":4100000},{"p":"d","g":"OUT","s":"0","n":10,"v":4400000},{"p":"d","g":"OUT","s":"0","n":17,"v":5100000},{"p":"d","g":"OUT","s":"0","n":24,"v":10200000},
{"p":"d","g":"IN1b","s":"1","n":1,"v":1418},{"p":"d","g":"IN1b","s":"1","n":8,"v":1423},{"p":"d","g":"IN1b","s":"1","n":15,"v":1428},{"p":"d","g":"IN1b","s":"1","n":22,"v":1433},{"p":"d","g":"IN1b","s":"1","n":29,"v":1438},{"p":"d","g":"IN1b","s":"1","n":6,"v":1442},{"p":"d","g":"IN1b","s":"1","n":13,"v":1445},{"p":"d","g":"IN1b","s":"1","n":20,"v":1447},{"p":"d","g":"IN1b","s":"1","n":27,"v":1457},{"p":"d","g":"IN1b","s":"1","n":4,"v":1468},{"p":"d","g":"IN1b","s":"1","n":11,"v":1482},{"p":"d","g":"IN1b","s":"1","n":18,"v":1497},{"p":"d","g":"IN1b","s":"1","n":25,"v":1512},{"p":"d","g":"IN1b","s":"1","n":2,"v":1528},{"p":"d","g":"IN1b","s":"1","n":9,"v":1538},{"p":"d","g":"IN1b","s":"1","n":16,"v":1562},{"p":"d","g":"IN1b","s":"1","n":23,"v":1585},{"p":"d","g":"IN1b","s":"1","n":30,"v":1615},{"p":"d","g":"IN1b","s":"1","n":7,"v":1645},{"p":"d","g":"IN1b","s":"1","n":14,"v":1675},{"p":"d","g":"IN1b","s":"1","n":21,"v":1705},{"p":"d","g":"IN1b","s":"1","n":28,"v":1733},{"p":"d","g":"IN1b","s":"1","n":5,"v":1760},{"p":"d","g":"IN1b","s":"1","n":12,"v":1795},{"p":"d","g":"IN1b","s":"1","n":19,"v":1840},{"p":"d","g":"IN1b","s":"1","n":26,"v":1890},{"p":"d","g":"IN1b","s":"1","n":3,"v":1940},{"p":"d","g":"IN1b","s":"1","n":10,"v":1990},{"p":"d","g":"IN1b","s":"1","n":17,"v":2040},{"p":"d","g":"IN1b","s":"1","n":24,"v":2080},
{"p":"d","g":"IN2b","s":"1","n":1,"v":1858},{"p":"d","g":"IN2b","s":"1","n":8,"v":1863},{"p":"d","g":"IN2b","s":"1","n":15,"v":1868},{"p":"d","g":"IN2b","s":"1","n":22,"v":1872},{"p":"d","g":"IN2b","s":"1","n":29,"v":1876},{"p":"d","g":"IN2b","s":"1","n":6,"v":1879},{"p":"d","g":"IN2b","s":"1","n":13,"v":1882},{"p":"d","g":"IN2b","s":"1","n":20,"v":1884},{"p":"d","g":"IN2b","s":"1","n":27,"v":1887},{"p":"d","g":"IN2b","s":"1","n":4,"v":1890},{"p":"d","g":"IN2b","s":"1","n":11,"v":1892},{"p":"d","g":"IN2b","s":"1","n":18,"v":1894},{"p":"d","g":"IN2b","s":"1","n":25,"v":1896},{"p":"d","g":"IN2b","s":"1","n":2,"v":1898},{"p":"d","g":"IN2b","s":"1","n":9,"v":1899},{"p":"d","g":"IN2b","s":"1","n":16,"v":1901},{"p":"d","g":"IN2b","s":"1","n":23,"v":1903},{"p":"d","g":"IN2b","s":"1","n":30,"v":1905},{"p":"d","g":"IN2b","s":"1","n":7,"v":1907},{"p":"d","g":"IN2b","s":"1","n":14,"v":1909},{"p":"d","g":"IN2b","s":"1","n":21,"v":1911},{"p":"d","g":"IN2b","s":"1","n":28,"v":1913},{"p":"d","g":"IN2b","s":"1","n":5,"v":1916},{"p":"d","g":"IN2b","s":"1","n":12,"v":1920},{"p":"d","g":"IN2b","s":"1","n":19,"v":1924},{"p":"d","g":"IN2b","s":"1","n":26,"v":1929},{"p":"d","g":"IN2b","s":"1","n":3,"v":1934},{"p":"d","g":"IN2b","s":"1","n":10,"v":1940},{"p":"d","g":"IN2b","s":"1","n":17,"v":1947},{"p":"d","g":"IN2b","s":"1","n":24,"v":1953},
{"p":"d","g":"OUTb","s":"0","n":1,"v":14600},{"p":"d","g":"OUTb","s":"0","n":8,"v":17000},{"p":"d","g":"OUTb","s":"0","n":15,"v":48500},{"p":"d","g":"OUTb","s":"0","n":22,"v":75000},{"p":"d","g":"OUTb","s":"0","n":29,"v":87000},{"p":"d","g":"OUTb","s":"0","n":6,"v":105000},{"p":"d","g":"OUTb","s":"0","n":13,"v":125000},{"p":"d","g":"OUTb","s":"0","n":20,"v":134300},{"p":"d","g":"OUTb","s":"0","n":27,"v":145200},{"p":"d","g":"OUTb","s":"0","n":4,"v":170000},{"p":"d","g":"OUTb","s":"0","n":11,"v":210000},{"p":"d","g":"OUTb","s":"0","n":18,"v":250000},{"p":"d","g":"OUTb","s":"0","n":25,"v":290000},{"p":"d","g":"OUTb","s":"0","n":2,"v":320000},{"p":"d","g":"OUTb","s":"0","n":9,"v":344350},{"p":"d","g":"OUTb","s":"0","n":16,"v":365650},{"p":"d","g":"OUTb","s":"0","n":23,"v":420000},{"p":"d","g":"OUTb","s":"0","n":30,"v":480000},{"p":"d","g":"OUTb","s":"0","n":7,"v":560000},{"p":"d","g":"OUTb","s":"0","n":14,"v":640000},{"p":"d","g":"OUTb","s":"0","n":21,"v":700000},{"p":"d","g":"OUTb","s":"0","n":28,"v":741000},{"p":"d","g":"OUTb","s":"0","n":5,"v":793300},{"p":"d","g":"OUTb","s":"0","n":12,"v":950000},{"p":"d","g":"OUTb","s":"0","n":19,"v":1230000},{"p":"d","g":"OUTb","s":"0","n":26,"v":1550000},{"p":"d","g":"OUTb","s":"0","n":3,"v":1850000},{"p":"d","g":"OUTb","s":"0","n":10,"v":3350000},{"p":"d","g":"OUTb","s":"0","n":17,"v":4900000},{"p":"d","g":"OUTb","s":"0","n":24,"v":10000000}
]
},
"vconcat": [
{
  "width": 1518, "height": 668,
  "title": {"text": "AND(A, B\u0304)(0,0)", "anchor": "middle", "frame": "group", "dx": 17, "baseline": "alphabetic", "offset": -82},
  "layer": [
    {"data": {"name": "refs"}, "mark": {"type": "rule", "color": "#808080", "strokeWidth": 13, "strokeDash": [13, 15]},
     "encoding": {"x": {"field": "g", "type": "nominal", "scale": {"type": "point", "domain": ["Set","IN1","IN2","OUT","MAGIC","IN1b","IN2b","OUTb"], "padding": 0.3805, "align": 0.533},
       "axis": {"title": null, "labelFontSize": 57, "labelPadding": 27, "labelLineHeight": 72, "labelBaseline": "top", "labelAngle": 0, "labelLimit": 0, "grid": true, "labelExpr": "datum.value == 'Set' ? ['Set', '000'] : datum.value == 'MAGIC' ? 'MAGIC' : substring(datum.value, 0, 3)"}}}},
    {"data": {"name": "d"}, "transform": [{"filter": "datum.p == 'a'"}],
     "mark": {"type": "circle", "size": 380, "opacity": 1, "clip": true},
     "encoding": {
       "x": {"field": "g", "type": "nominal"},
       "xOffset": {"field": "n", "type": "nominal", "scale": {"range": [-83, -64]}},
       "y": {"field": "v", "type": "quantitative", "title": "Resistance [\u03a9]", "scale": {"type": "log", "domain": [1000, 10000000], "nice": false},
         "axis": {"title": "Resistance [\u03a9]", "titleFontSize": 70, "titleFontWeight": "normal", "titleX": -172, "titleY": 334, "titleBaseline": "alphabetic", "titleAngle": -90, "titleAlign": "center", "labelFontSize": 70, "labelPadding": 16, "values": [1000, 10000, 100000, 1000000, 10000000], "labelExpr": "'10' + ['\u2070','\u00b9','\u00b2','\u00b3','\u2074','\u2075','\u2076','\u2077'][round(log(datum.value) / LN10)]", "grid": true}},
       "color": {"field": "s", "type": "nominal", "scale": {"domain": ["0", "1"], "range": ["#0b3c7f", "#8e0a22"]}, "legend": null}}},
    {"data": {"name": "d"}, "transform": [{"filter": "datum.p == 'a'"}],
     "mark": {"type": "boxplot", "extent": 1.5, "size": 94, "outliers": false, "box": {"fillOpacity": 0.5, "strokeWidth": 6}, "median": {"thickness": 0.5, "strokeWidth": 6, "fill": "transparent", "opacity": 1}, "rule": {"strokeWidth": 6}, "ticks": {"size": 50, "thickness": 0.5, "strokeWidth": 6, "fill": "transparent", "opacity": 1}},
     "encoding": {
       "x": {"field": "g", "type": "nominal"},
       "y": {"field": "v", "type": "quantitative", "title": "Resistance [\u03a9]"},
       "color": {"field": "s", "type": "nominal", "legend": null},
       "stroke": {"field": "s", "type": "nominal", "scale": {"domain": ["0", "1"], "range": ["#0b3c7f", "#8e0a22"]}, "legend": null}}},
    {"data": {"name": "d"}, "transform": [{"filter": "datum.p == 'a'"}, {"joinaggregate": [{"op": "q1", "field": "v", "as": "q1"}, {"op": "q3", "field": "v", "as": "q3"}], "groupby": ["g"]}, {"filter": "datum.v <= datum.q3 + 1.5 * (datum.q3 - datum.q1)"}, {"aggregate": [{"op": "max", "field": "v", "as": "top"}], "groupby": ["g", "s"]}],
     "mark": {"type": "text", "fontSize": 46, "baseline": "alphabetic", "dy": -8, "color": "#222", "font": "Open Sans"},
     "encoding": {"x": {"field": "g", "type": "nominal"}, "y": {"field": "top", "type": "quantitative", "title": "Resistance [\u03a9]"}, "text": {"field": "s", "type": "nominal"}}}
  ]
},
{
  "width": 1518, "height": 668,
  "title": {"text": "AND(A, B\u0304)(1,0)", "anchor": "middle", "frame": "group", "dx": 17, "baseline": "alphabetic", "offset": -82},
  "layer": [
    {"data": {"name": "refs"}, "mark": {"type": "rule", "color": "#808080", "strokeWidth": 13, "strokeDash": [13, 15]},
     "encoding": {"x": {"field": "g", "type": "nominal", "scale": {"type": "point", "domain": ["Set","IN1","IN2","OUT","MAGIC","IN1b","IN2b","OUTb"], "padding": 0.3805, "align": 0.533},
       "axis": {"title": null, "labelFontSize": 57, "labelPadding": 27, "labelLineHeight": 72, "labelBaseline": "top", "labelAngle": 0, "labelLimit": 0, "grid": true, "labelExpr": "datum.value == 'Set' ? ['Set', '100'] : datum.value == 'MAGIC' ? 'MAGIC' : substring(datum.value, 0, 3)"}}}},
    {"data": {"name": "d"}, "transform": [{"filter": "datum.p == 'b'"}],
     "mark": {"type": "circle", "size": 380, "opacity": 1, "clip": true},
     "encoding": {
       "x": {"field": "g", "type": "nominal"},
       "xOffset": {"field": "n", "type": "nominal", "scale": {"range": [-83, -64]}},
       "y": {"field": "v", "type": "quantitative", "title": "Resistance [\u03a9]", "scale": {"type": "log", "domain": [1000, 10000000], "nice": false},
         "axis": {"title": "Resistance [\u03a9]", "titleFontSize": 70, "titleFontWeight": "normal", "titleX": -172, "titleY": 334, "titleBaseline": "alphabetic", "titleAngle": -90, "titleAlign": "center", "labelFontSize": 70, "labelPadding": 16, "values": [1000, 10000, 100000, 1000000, 10000000], "labelExpr": "'10' + ['\u2070','\u00b9','\u00b2','\u00b3','\u2074','\u2075','\u2076','\u2077'][round(log(datum.value) / LN10)]", "grid": true}},
       "color": {"field": "s", "type": "nominal", "scale": {"domain": ["0", "1"], "range": ["#0b3c7f", "#8e0a22"]}, "legend": null}}},
    {"data": {"name": "d"}, "transform": [{"filter": "datum.p == 'b'"}],
     "mark": {"type": "boxplot", "extent": 1.5, "size": 94, "outliers": false, "box": {"fillOpacity": 0.5, "strokeWidth": 6}, "median": {"thickness": 0.5, "strokeWidth": 6, "fill": "transparent", "opacity": 1}, "rule": {"strokeWidth": 6}, "ticks": {"size": 50, "thickness": 0.5, "strokeWidth": 6, "fill": "transparent", "opacity": 1}},
     "encoding": {
       "x": {"field": "g", "type": "nominal"},
       "y": {"field": "v", "type": "quantitative", "title": "Resistance [\u03a9]"},
       "color": {"field": "s", "type": "nominal", "legend": null},
       "stroke": {"field": "s", "type": "nominal", "scale": {"domain": ["0", "1"], "range": ["#0b3c7f", "#8e0a22"]}, "legend": null}}},
    {"data": {"name": "d"}, "transform": [{"filter": "datum.p == 'b'"}, {"joinaggregate": [{"op": "q1", "field": "v", "as": "q1"}, {"op": "q3", "field": "v", "as": "q3"}], "groupby": ["g"]}, {"filter": "datum.v <= datum.q3 + 1.5 * (datum.q3 - datum.q1)"}, {"aggregate": [{"op": "max", "field": "v", "as": "top"}], "groupby": ["g", "s"]}],
     "mark": {"type": "text", "fontSize": 46, "baseline": "alphabetic", "dy": -8, "color": "#222", "font": "Open Sans"},
     "encoding": {"x": {"field": "g", "type": "nominal"}, "y": {"field": "top", "type": "quantitative", "title": "Resistance [\u03a9]"}, "text": {"field": "s", "type": "nominal"}}}
  ]
},
{
  "width": 1518, "height": 668,
  "title": {"text": "AND(A, B\u0304)(0,1)", "anchor": "middle", "frame": "group", "dx": 17, "baseline": "alphabetic", "offset": -82},
  "layer": [
    {"data": {"name": "refs"}, "mark": {"type": "rule", "color": "#808080", "strokeWidth": 13, "strokeDash": [13, 15]},
     "encoding": {"x": {"field": "g", "type": "nominal", "scale": {"type": "point", "domain": ["Set","IN1","IN2","OUT","MAGIC","IN1b","IN2b","OUTb"], "padding": 0.3805, "align": 0.533},
       "axis": {"title": null, "labelFontSize": 57, "labelPadding": 27, "labelLineHeight": 72, "labelBaseline": "top", "labelAngle": 0, "labelLimit": 0, "grid": true, "labelExpr": "datum.value == 'Set' ? ['Set', '010'] : datum.value == 'MAGIC' ? 'MAGIC' : substring(datum.value, 0, 3)"}}}},
    {"data": {"name": "d"}, "transform": [{"filter": "datum.p == 'c'"}],
     "mark": {"type": "circle", "size": 380, "opacity": 1, "clip": true},
     "encoding": {
       "x": {"field": "g", "type": "nominal"},
       "xOffset": {"field": "n", "type": "nominal", "scale": {"range": [-83, -64]}},
       "y": {"field": "v", "type": "quantitative", "title": "Resistance [\u03a9]", "scale": {"type": "log", "domain": [1000, 10000000], "nice": false},
         "axis": {"title": "Resistance [\u03a9]", "titleFontSize": 70, "titleFontWeight": "normal", "titleX": -172, "titleY": 334, "titleBaseline": "alphabetic", "titleAngle": -90, "titleAlign": "center", "labelFontSize": 70, "labelPadding": 16, "values": [1000, 10000, 100000, 1000000, 10000000], "labelExpr": "'10' + ['\u2070','\u00b9','\u00b2','\u00b3','\u2074','\u2075','\u2076','\u2077'][round(log(datum.value) / LN10)]", "grid": true}},
       "color": {"field": "s", "type": "nominal", "scale": {"domain": ["0", "1"], "range": ["#0b3c7f", "#8e0a22"]}, "legend": null}}},
    {"data": {"name": "d"}, "transform": [{"filter": "datum.p == 'c'"}],
     "mark": {"type": "boxplot", "extent": 1.5, "size": 94, "outliers": false, "box": {"fillOpacity": 0.5, "strokeWidth": 6}, "median": {"thickness": 0.5, "strokeWidth": 6, "fill": "transparent", "opacity": 1}, "rule": {"strokeWidth": 6}, "ticks": {"size": 50, "thickness": 0.5, "strokeWidth": 6, "fill": "transparent", "opacity": 1}},
     "encoding": {
       "x": {"field": "g", "type": "nominal"},
       "y": {"field": "v", "type": "quantitative", "title": "Resistance [\u03a9]"},
       "color": {"field": "s", "type": "nominal", "legend": null},
       "stroke": {"field": "s", "type": "nominal", "scale": {"domain": ["0", "1"], "range": ["#0b3c7f", "#8e0a22"]}, "legend": null}}},
    {"data": {"name": "d"}, "transform": [{"filter": "datum.p == 'c'"}, {"joinaggregate": [{"op": "q1", "field": "v", "as": "q1"}, {"op": "q3", "field": "v", "as": "q3"}], "groupby": ["g"]}, {"filter": "datum.v <= datum.q3 + 1.5 * (datum.q3 - datum.q1)"}, {"aggregate": [{"op": "max", "field": "v", "as": "top"}], "groupby": ["g", "s"]}],
     "mark": {"type": "text", "fontSize": 46, "baseline": "alphabetic", "dy": -8, "color": "#222", "font": "Open Sans"},
     "encoding": {"x": {"field": "g", "type": "nominal"}, "y": {"field": "top", "type": "quantitative", "title": "Resistance [\u03a9]"}, "text": {"field": "s", "type": "nominal"}}}
  ]
},
{
  "width": 1518, "height": 668,
  "title": {"text": "AND(A, B\u0304)(1,1)", "anchor": "middle", "frame": "group", "dx": 17, "baseline": "alphabetic", "offset": -82},
  "layer": [
    {"data": {"name": "refs"}, "mark": {"type": "rule", "color": "#808080", "strokeWidth": 13, "strokeDash": [13, 15]},
     "encoding": {"x": {"field": "g", "type": "nominal", "scale": {"type": "point", "domain": ["Set","IN1","IN2","OUT","MAGIC","IN1b","IN2b","OUTb"], "padding": 0.3805, "align": 0.533},
       "axis": {"title": null, "labelFontSize": 57, "labelPadding": 27, "labelLineHeight": 72, "labelBaseline": "top", "labelAngle": 0, "labelLimit": 0, "grid": true, "labelExpr": "datum.value == 'Set' ? ['Set', '110'] : datum.value == 'MAGIC' ? 'MAGIC' : substring(datum.value, 0, 3)"}}}},
    {"data": {"name": "d"}, "transform": [{"filter": "datum.p == 'd'"}],
     "mark": {"type": "circle", "size": 380, "opacity": 1, "clip": true},
     "encoding": {
       "x": {"field": "g", "type": "nominal"},
       "xOffset": {"field": "n", "type": "nominal", "scale": {"range": [-83, -64]}},
       "y": {"field": "v", "type": "quantitative", "title": "Resistance [\u03a9]", "scale": {"type": "log", "domain": [1000, 10000000], "nice": false},
         "axis": {"title": "Resistance [\u03a9]", "titleFontSize": 70, "titleFontWeight": "normal", "titleX": -172, "titleY": 334, "titleBaseline": "alphabetic", "titleAngle": -90, "titleAlign": "center", "labelFontSize": 70, "labelPadding": 16, "values": [1000, 10000, 100000, 1000000, 10000000], "labelExpr": "'10' + ['\u2070','\u00b9','\u00b2','\u00b3','\u2074','\u2075','\u2076','\u2077'][round(log(datum.value) / LN10)]", "grid": true}},
       "color": {"field": "s", "type": "nominal", "scale": {"domain": ["0", "1"], "range": ["#0b3c7f", "#8e0a22"]}, "legend": null}}},
    {"data": {"name": "d"}, "transform": [{"filter": "datum.p == 'd'"}],
     "mark": {"type": "boxplot", "extent": 1.5, "size": 94, "outliers": false, "box": {"fillOpacity": 0.5, "strokeWidth": 6}, "median": {"thickness": 0.5, "strokeWidth": 6, "fill": "transparent", "opacity": 1}, "rule": {"strokeWidth": 6}, "ticks": {"size": 50, "thickness": 0.5, "strokeWidth": 6, "fill": "transparent", "opacity": 1}},
     "encoding": {
       "x": {"field": "g", "type": "nominal"},
       "y": {"field": "v", "type": "quantitative", "title": "Resistance [\u03a9]"},
       "color": {"field": "s", "type": "nominal", "legend": null},
       "stroke": {"field": "s", "type": "nominal", "scale": {"domain": ["0", "1"], "range": ["#0b3c7f", "#8e0a22"]}, "legend": null}}},
    {"data": {"name": "d"}, "transform": [{"filter": "datum.p == 'd'"}, {"joinaggregate": [{"op": "q1", "field": "v", "as": "q1"}, {"op": "q3", "field": "v", "as": "q3"}], "groupby": ["g"]}, {"filter": "datum.v <= datum.q3 + 1.5 * (datum.q3 - datum.q1)"}, {"aggregate": [{"op": "max", "field": "v", "as": "top"}], "groupby": ["g", "s"]}],
     "mark": {"type": "text", "fontSize": 46, "baseline": "alphabetic", "dy": -8, "color": "#222", "font": "Open Sans"},
     "encoding": {"x": {"field": "g", "type": "nominal"}, "y": {"field": "top", "type": "quantitative", "title": "Resistance [\u03a9]"}, "text": {"field": "s", "type": "nominal"}}}
  ]
}
]
}
